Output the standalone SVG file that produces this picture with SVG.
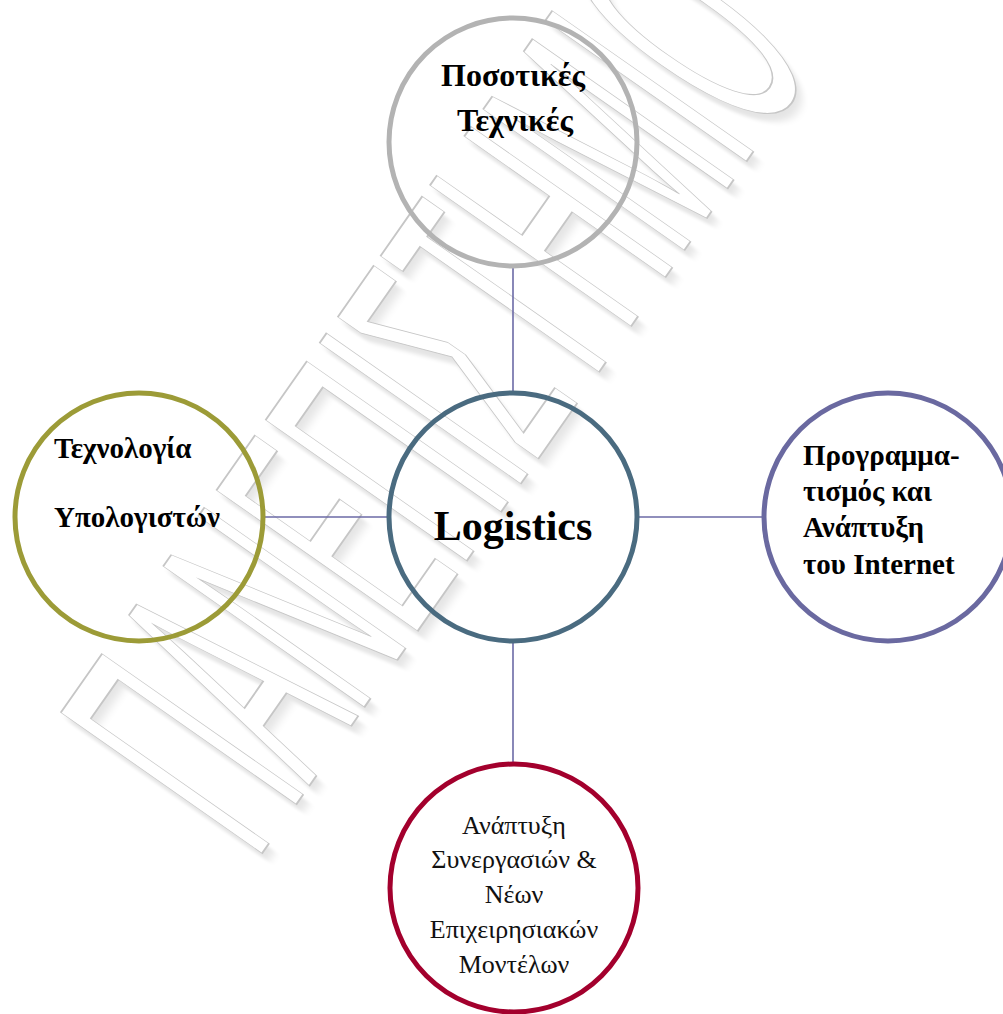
<svg xmlns="http://www.w3.org/2000/svg" width="1003" height="1014" viewBox="0 0 1003 1014">
  <defs>
    <filter id="soft" x="-20%" y="-20%" width="140%" height="140%">
      <feGaussianBlur stdDeviation="5"/>
    </filter>
  </defs>
  <style>
    .wm { font-family: "Liberation Sans", Arial, sans-serif; font-size: 357px; }
    .wm-shadow { fill: #000; opacity: 0.1; }
    .wm-line { fill: #fff; stroke: #c6c6c6; stroke-width: 1.4; }
    .ring { fill: none; stroke-width: 5; }
    .link { stroke: #6b6aa6; stroke-width: 1.6; fill: none; }
    .lbl { font-family: "Liberation Serif", "Times New Roman", serif; font-weight: bold; font-size: 29px; fill: #000; }
    .lbl-c { text-anchor: middle; }
    .lbl-top { font-size: 32px; }
    .lbl-main { font-size: 42px; }
    .lbl-plain { font-family: "Liberation Serif", "Times New Roman", serif; font-size: 26px; fill: #111; text-anchor: middle; }
  </style>

  <rect width="1003" height="1014" fill="#fff"/>

  <!-- background watermark: outlined lettering on a diagonal with a soft shadow -->
  <g id="watermark">
    <text class="wm wm-shadow" filter="url(#soft)" transform="translate(262,870) rotate(-55) scale(0.36,1)">ΠΑΝΕΠΙΣΤΗΜΙΟ</text>
    <text class="wm wm-line" vector-effect="non-scaling-stroke" transform="translate(256,862) rotate(-55) scale(0.36,1)">ΠΑΝΕΠΙΣΤΗΜΙΟ</text>
  </g>

  <!-- connectors between the hub and the four satellites -->
  <g id="connectors">
    <line class="link" x1="513" y1="267" x2="513" y2="391"/>
    <line class="link" x1="265" y1="517" x2="388" y2="517"/>
    <line class="link" x1="638" y1="517" x2="764" y2="517"/>
    <line class="link" x1="513" y1="641" x2="513" y2="765"/>
  </g>

  <g id="node-quant">
    <circle class="ring" cx="513" cy="142" r="124" stroke="#b3b3b3"/>
    <text class="lbl lbl-c lbl-top" x="513" y="86">Ποσοτικές</text>
    <text class="lbl lbl-c lbl-top" x="515" y="131">Τεχνικές</text>
  </g>

  <g id="node-computing">
    <circle class="ring" cx="139" cy="517" r="124" stroke="#9c9b37"/>
    <text class="lbl" x="54" y="458">Τεχνολογία</text>
    <text class="lbl" x="54" y="527">Υπολογιστών</text>
  </g>

  <g id="node-logistics">
    <circle class="ring" cx="513" cy="517" r="124" stroke="#4a6b80"/>
    <text class="lbl lbl-c lbl-main" x="513" y="540">Logistics</text>
  </g>

  <g id="node-internet">
    <circle class="ring" cx="888" cy="517" r="124" stroke="#6a69a0"/>
    <text class="lbl" x="803" y="465">Προγραμμα-</text>
    <text class="lbl" x="803" y="501">τισμός και</text>
    <text class="lbl" x="803" y="537">Ανάπτυξη</text>
    <text class="lbl" x="803" y="574">του Internet</text>
  </g>

  <g id="node-partnerships">
    <circle class="ring" cx="514" cy="888" r="124" stroke="#a3002d"/>
    <text class="lbl-plain" x="514" y="834">Ανάπτυξη</text>
    <text class="lbl-plain" x="514" y="868">Συνεργασιών &amp;</text>
    <text class="lbl-plain" x="514" y="903">Νέων</text>
    <text class="lbl-plain" x="514" y="938">Επιχειρησιακών</text>
    <text class="lbl-plain" x="514" y="973">Μοντέλων</text>
  </g>
</svg>
